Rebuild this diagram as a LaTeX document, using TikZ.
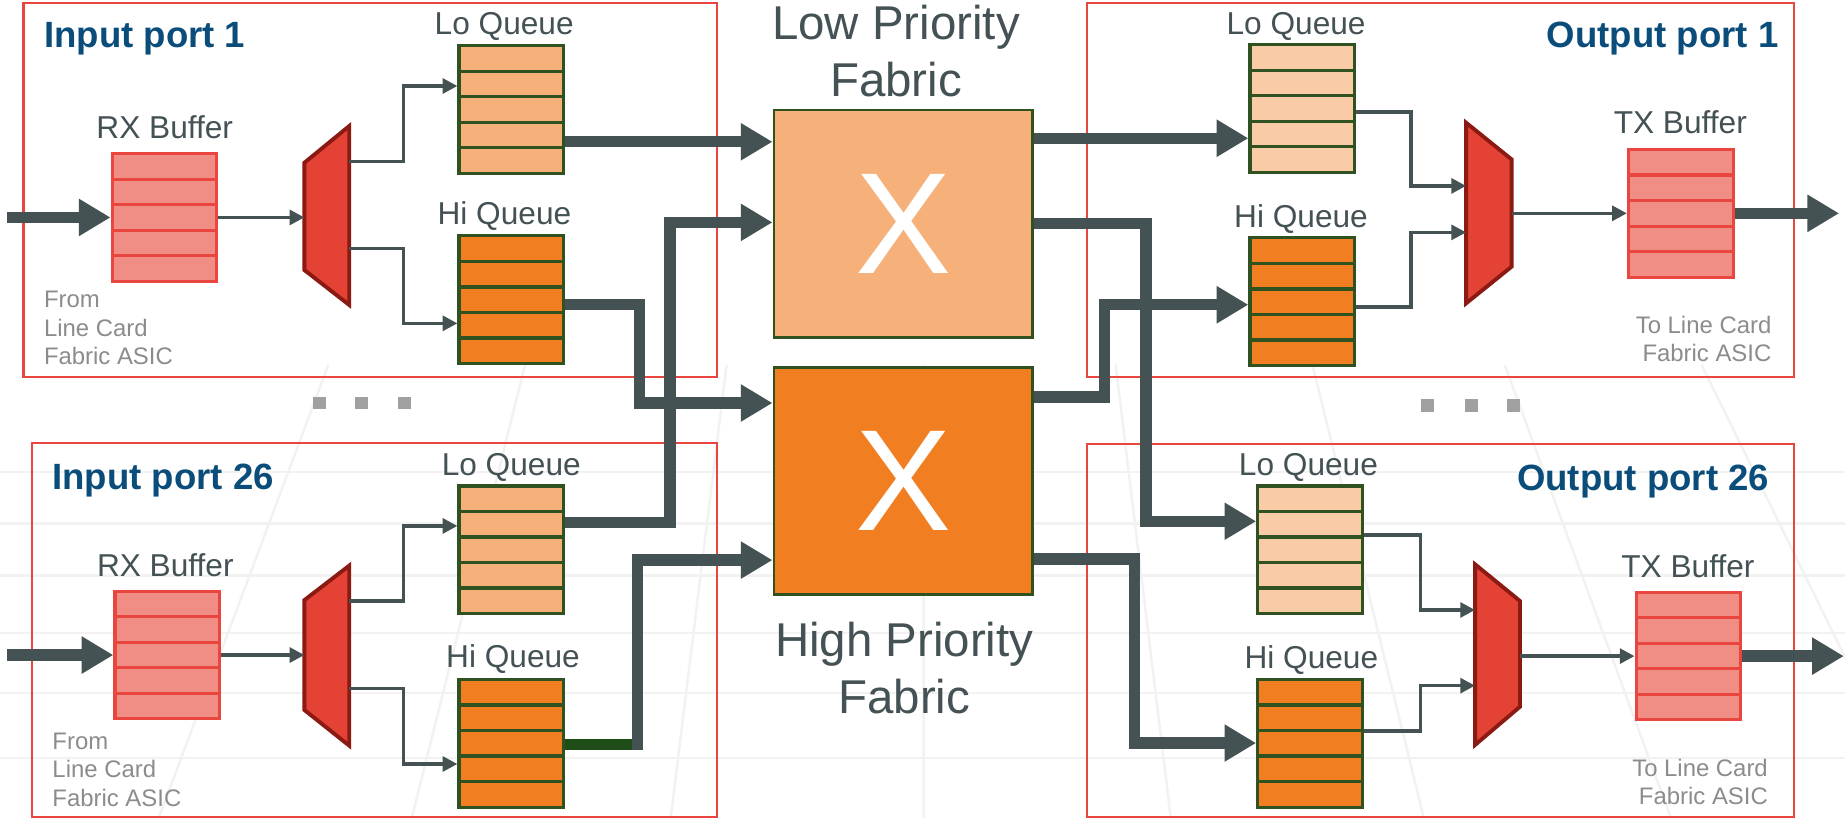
\documentclass[tikz,border=0pt]{standalone}
\usepackage{fontspec}
\setmainfont{Liberation Sans}
\usetikzlibrary{arrows.meta,calc}

\definecolor{linegrey}{HTML}{455254}
\definecolor{framered}{HTML}{E8463E}
\definecolor{bufred}{HTML}{E8463E}
\definecolor{bufpink}{HTML}{F08D85}
\definecolor{muxred}{HTML}{E34234}
\definecolor{muxdark}{HTML}{8B1A12}
\definecolor{qgreen}{HTML}{2F5220}
\definecolor{loorange}{HTML}{F6B07A}
\definecolor{peach}{HTML}{F9CBA7}
\definecolor{hiorange}{HTML}{F27E22}
\definecolor{titleblue}{HTML}{0A4D7B}
\definecolor{labelgrey}{HTML}{445155}
\definecolor{notegrey}{HTML}{8C8C8C}
\definecolor{dotgrey}{HTML}{A0A0A0}
\definecolor{darkgreen}{HTML}{1E4D17}

\tikzset{
  portframe/.style={draw=framered, line width=0.6pt},
  rows/.style={path picture={\foreach \k in {1,...,4}
      \draw[#1, line width=0.9pt] ($(path picture bounding box.north west)!\k/5!(path picture bounding box.south west)$) -- ($(path picture bounding box.north east)!\k/5!(path picture bounding box.south east)$);}},
  slot/.style={rectangle, minimum width=29.8pt, minimum height=36.3pt, inner sep=0pt, line width=0.9pt},
  loq/.style={slot, draw=qgreen, fill=loorange, rows=qgreen},
  loqout/.style={slot, draw=qgreen, fill=peach, rows=qgreen},
  hiq/.style={slot, draw=qgreen, fill=hiorange, rows=qgreen},
  buf/.style={slot, draw=bufred, fill=bufpink, rows=bufred},
  fabric/.style={rectangle, draw=qgreen, line width=0.8pt, minimum width=73.5pt, minimum height=64.6pt, inner sep=0pt, text=white, font=\fontsize{41}{41}\selectfont},
  mux/.style={draw=muxdark, fill=muxred, line width=1.1pt},
  trunk/.style={draw=linegrey, line width=3.2pt},
  trunkarrow/.style={trunk, -{Triangle[length=9pt,width=10pt]}},
  link/.style={draw=linegrey, line width=1pt},
  linkarrow/.style={link, -{Triangle[length=4.2pt,width=4.2pt]}},
  title/.style={font=\fontsize{10.4}{12}\selectfont\bfseries, text=titleblue, inner sep=0pt},
  lbl/.style={font=\fontsize{9}{11}\selectfont, text=labelgrey, inner sep=0pt},
  fablbl/.style={font=\fontsize{13.5}{16.1}\selectfont, text=labelgrey, inner sep=0pt, align=center},
  note/.style={font=\fontsize{6.8}{8}\selectfont, text=notegrey, inner sep=0pt},
  gapdot/.style={fill=dotgrey},
  floor/.style={draw=black!5, line width=0.7pt}
}

\begin{document}
\begin{tikzpicture}[x=0.33476pt, y=-0.33476pt]
		%%%%% START %%%%%
		\useasboundingbox[fill=white] (0,0) rectangle (1568,695);
		
		% floor grid
		\foreach \h in {401,445,489,538,589,644}
			\draw[floor] (0,\h) -- (1568,\h);
		\foreach \b in {-290,135,350,570,785,995,1210,1420,1635}
			\draw[floor] ({784+(\b-784)*0.778},310) -- (\b,695);
		
		% port frames
		\draw[portframe] (20,2.3) rectangle (609.6,320.7);
		\draw[portframe] (924.1,2.3) rectangle (1524.3,320.7);
		\draw[portframe] (27.3,376.8) rectangle (609.6,694.5);
		\draw[portframe] (924.1,377.3) rectangle (1524.3,694.5);
		
		\fill[gapdot] (266,337) rectangle (277,348);
		\fill[gapdot] (302,337) rectangle (313,348);
		\fill[gapdot] (338,337) rectangle (349,348);
		\fill[gapdot] (1208,339) rectangle (1219,350);
		\fill[gapdot] (1245,339) rectangle (1256,350);
		\fill[gapdot] (1281,339) rectangle (1292,350);
		
		% input port 1
		\node[buf] (rx1) at (139.8,184.8) {};
		\node[loq] (lq1) at (434.6,93) {};
		\node[hiq] (hq1) at (434.6,254.7) {};
		\draw[mux] (258.7,138.3) -- (296.8,107.1) -- (296.8,259.2) -- (258.7,229.5) -- cycle;
		\coordinate (m1in) at (258.7,184.8);
		\coordinate (m1lo) at (296.8,137.4);
		\coordinate (m1hi) at (296.8,211);
		\coordinate (src1) at (6,184.8);
		
		% input port 26
		\node[buf] (rx26) at (142.2,556.7) {};
		\node[loq] (lq26) at (434.6,467.2) {};
		\node[hiq] (hq26) at (434.6,631.7) {};
		\draw[mux] (258.7,510) -- (296.8,480.7) -- (296.8,633.7) -- (258.7,603.4) -- cycle;
		\coordinate (m26in) at (258.7,556.7);
		\coordinate (m26lo) at (296.8,510.8);
		\coordinate (m26hi) at (296.8,585);
		\coordinate (src26) at (6,556.7);
		
		% fabrics
		\node[fabric, fill=loorange] (lofab) at (767.5,190) {X};
		\node[fabric, fill=hiorange] (hifab) at (767.5,408.7) {X};
		
		% output port 1
		\node[loqout] (olq1) at (1106.8,92.1) {};
		\node[hiq] (ohq1) at (1106.8,256.4) {};
		\node[buf] (tx1) at (1428.5,181.3) {};
		\draw[mux] (1246,104.3) -- (1284.7,135.5) -- (1284.7,226.6) -- (1246,257.8) -- cycle;
		\coordinate (om1lo) at (1246,158);
		\coordinate (om1hi) at (1246,197.5);
		\coordinate (om1out) at (1284.7,181.3);
		\coordinate (dst1) at (1563,181.3);
		
		% output port 26
		\node[loqout] (olq26) at (1113.4,467.2) {};
		\node[hiq] (ohq26) at (1113.4,631.7) {};
		\node[buf] (tx26) at (1435,557.6) {};
		\draw[mux] (1253.6,479.6) -- (1291.8,510.8) -- (1291.8,600.6) -- (1253.6,633.1) -- cycle;
		\coordinate (om26lo) at (1253.6,518.4);
		\coordinate (om26hi) at (1253.6,582.7);
		\coordinate (om26out) at (1291.8,557.6);
		\coordinate (dst26) at (1567,557.6);
		
		% input side connectors
		\draw[trunkarrow] (src1) -- (rx1);
		\draw[linkarrow] (rx1) -- (m1in);
		\draw[linkarrow] (m1lo) -- ++(46.2,0) |- (lq1.west |- 0,73.1);
		\draw[linkarrow] (m1hi) -- ++(46.2,0) |- (hq1.west |- 0,274.8);
		\draw[trunkarrow] (src26) -- (rx26);
		\draw[linkarrow] (rx26) -- (m26in);
		\draw[linkarrow] (m26lo) -- ++(46.2,0) |- (lq26.west |- 0,447);
		\draw[linkarrow] (m26hi) -- ++(46.2,0) |- (hq26.west |- 0,649.3);
		
		% into the fabrics
		\draw[trunkarrow] (lq1.east |- 0,120.5) -- (lofab.west |- 0,120.5);
		\draw[trunkarrow] (hq1.east |- 0,259) -- ++(63,0) |- (hifab.west |- 0,342.5);
		\draw[trunkarrow] (lq26.east |- 0,443.9) -- ++(89,0) |- (lofab.west |- 0,189);
		\draw[trunk, draw=darkgreen] (hq26.east |- 0,632.6) -- ++(60,0) coordinate (hq26bend);
		\draw[trunkarrow] ([xshift=0.4pt,yshift=-1.6pt]hq26bend) |- (hifab.west |- 0,476);
		
		% out of the fabrics
		\draw[trunkarrow] (lofab.east |- 0,117.5) -- (olq1.west |- 0,117.5);
		\draw[trunkarrow] (lofab.east |- 0,190) -- ++(95.5,0) |- (olq26.west |- 0,443);
		\draw[trunkarrow] (hifab.east |- 0,337.5) -- ++(60.5,0) |- (ohq1.west |- 0,259);
		\draw[trunkarrow] (hifab.east |- 0,475) -- ++(85.5,0) |- (ohq26.west |- 0,631.5);
		
		% output side connectors
		\draw[linkarrow] (olq1.east |- 0,95) -- ++(46.4,0) |- (om1lo);
		\draw[linkarrow] (ohq1.east |- 0,261) -- ++(46.4,0) |- (om1hi);
		\draw[linkarrow] (om1out) -- (tx1);
		\draw[trunkarrow] (tx1) -- (dst1);
		\draw[linkarrow] (olq26.east |- 0,454.7) -- ++(48,0) |- (om26lo);
		\draw[linkarrow] (ohq26.east |- 0,621.3) -- ++(48,0) |- (om26hi);
		\draw[linkarrow] (om26out) -- (tx26);
		\draw[trunkarrow] (tx26) -- (dst26);
		
		% texts
		\node[title, anchor=base west] (t1) at (37,40) {Input port 1};
		\node[title, anchor=base east] (t2) at (1512,40) {Output port 1};
		\node[title, anchor=base west] (t3) at (44,416) {Input port 26};
		\node[title, anchor=base east] (t4) at (1504,416.5) {Output port 26};
		
		\node[lbl, anchor=base] (l1) at (428.5,29.7) {Lo Queue};
		\node[lbl, anchor=base] (l2) at (428.7,191) {Hi Queue};
		\node[lbl, anchor=base] (l3) at (140,117.6) {RX Buffer};
		\node[lbl, anchor=base] (l4) at (434.5,404.5) {Lo Queue};
		\node[lbl, anchor=base] (l5) at (436,567.7) {Hi Queue};
		\node[lbl, anchor=base] (l6) at (140.5,490) {RX Buffer};
		\node[lbl, anchor=base] (l7) at (1101.5,29.7) {Lo Queue};
		\node[lbl, anchor=base] (l8) at (1105.7,193.5) {Hi Queue};
		\node[lbl, anchor=base] (l9) at (1428,113.3) {TX Buffer};
		\node[lbl, anchor=base] (l10) at (1112,404.5) {Lo Queue};
		\node[lbl, anchor=base] (l11) at (1114.5,568) {Hi Queue};
		\node[lbl, anchor=base] (l12) at (1434.5,491) {TX Buffer};
		
		% multi-line texts: base anchor sits on the last line
		\node[fablbl, anchor=base] (f1) at (761.5,81.6) {Low Priority\\Fabric};
		\node[fablbl, anchor=base] (f2) at (768.5,606) {High Priority\\Fabric};
		
		\node[note, align=left, anchor=base west] (n1) at (36.8,309.5) {From\\Line Card\\Fabric ASIC};
		\node[note, align=left, anchor=base west] (n2) at (44,685) {From\\Line Card\\Fabric ASIC};
		\node[note, align=right, anchor=base east] (n3) at (1506,307.5) {To Line Card\\Fabric ASIC};
		\node[note, align=right, anchor=base east] (n4) at (1503,684) {To Line Card\\Fabric ASIC};
		%%%%% END %%%%%
\end{tikzpicture}
\end{document}
